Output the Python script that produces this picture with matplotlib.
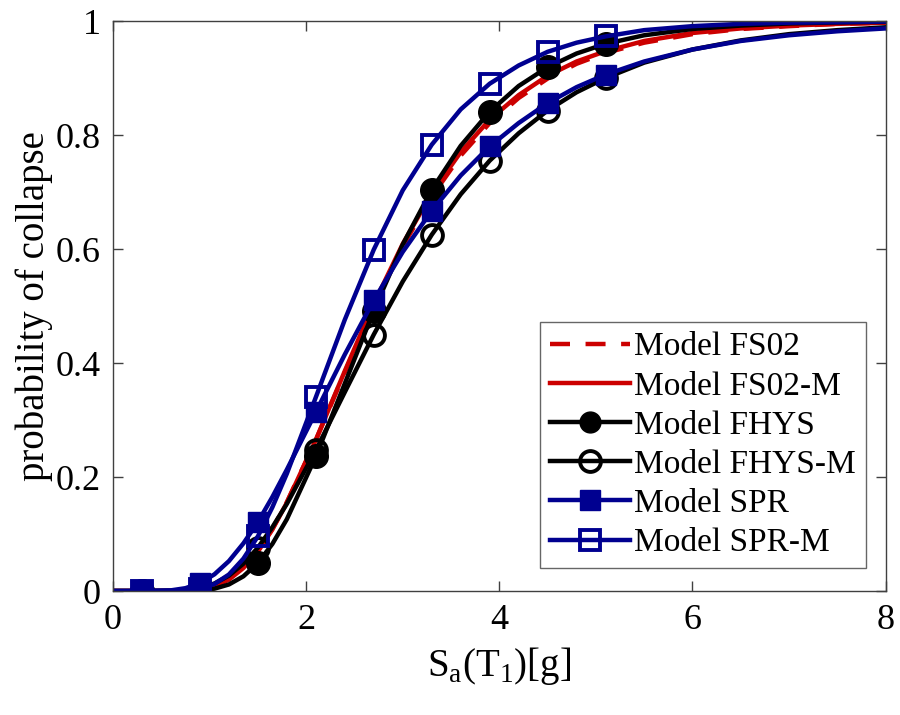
import numpy as np
import matplotlib
matplotlib.use('Agg')
from matplotlib import pyplot as plt

# Sa(T1) grid for the curves
sa = [0.0, 0.3, 0.6, 0.75, 0.9, 1.05, 1.2, 1.35, 1.5, 1.65, 1.8, 2.1, 2.4, 2.7, 3.0,
      3.3, 3.6, 3.9, 4.2, 4.5, 4.8, 5.1, 5.5, 6.0, 6.5, 7.0, 7.5, 8.0]
sa_marks = [0.3, 0.9, 1.5, 2.1, 2.7, 3.3, 3.9, 4.5, 5.1]

# probability of collapse for each model
fs02 = [0.0, 0.0, 0.0001, 0.0007, 0.003, 0.0091, 0.021, 0.0416, 0.071, 0.109, 0.156, 0.265,
        0.384, 0.500, 0.605, 0.692, 0.764, 0.821, 0.865, 0.899, 0.925, 0.944, 0.962, 0.977,
        0.986, 0.991, 0.995, 0.997]
fs02_m = [0.0, 0.0, 0.0001, 0.0006, 0.0028, 0.0086, 0.020, 0.0404, 0.069, 0.108, 0.155, 0.265,
          0.386, 0.504, 0.609, 0.698, 0.770, 0.827, 0.870, 0.904, 0.929, 0.947, 0.965, 0.979,
          0.987, 0.992, 0.995, 0.997]
fhys = [0.0, 0.0, 0.0, 0.0002, 0.001, 0.0041, 0.0115, 0.0258, 0.049, 0.0826, 0.126, 0.236,
        0.364, 0.492, 0.608, 0.704, 0.781, 0.841, 0.886, 0.919, 0.943, 0.960, 0.975, 0.986,
        0.992, 0.9957, 0.9976, 0.9986]
fhys_m = [0.0, 0.0, 0.0003, 0.0015, 0.0052, 0.0132, 0.027, 0.048, 0.076, 0.112, 0.153, 0.247,
          0.349, 0.450, 0.543, 0.625, 0.696, 0.755, 0.803, 0.843, 0.875, 0.900, 0.927, 0.950,
          0.966, 0.977, 0.984, 0.989]
spr = [0.0, 0.0, 0.0012, 0.005, 0.0138, 0.0293, 0.0525, 0.0836, 0.121, 0.165, 0.213, 0.314,
       0.415, 0.510, 0.595, 0.667, 0.729, 0.780, 0.821, 0.856, 0.884, 0.906, 0.929, 0.950,
       0.965, 0.975, 0.982, 0.987]
spr_m = [0.0, 0.0, 0.0001, 0.0009, 0.004, 0.0123, 0.029, 0.0568, 0.096, 0.147, 0.206, 0.340,
         0.476, 0.599, 0.703, 0.783, 0.845, 0.890, 0.922, 0.946, 0.962, 0.973, 0.984, 0.991,
         0.995, 0.997, 0.998, 0.999]

labels = ['Model FS02', 'Model FS02-M', 'Model FHYS', 'Model FHYS-M',
          'Model SPR', 'Model SPR-M']

RED = '#cc0000'
BLUE = '#000090'
MARK = [sa.index(x) for x in sa_marks]
LW = 3.2

plt.rcParams['font.family'] = 'serif'
plt.rcParams['font.serif'] = ['Liberation Serif', 'DejaVu Serif']
plt.rcParams['mathtext.fontset'] = 'custom'
plt.rcParams['mathtext.rm'] = 'Liberation Serif'

fig = plt.figure(figsize=(9, 7.15), dpi=100)
ax = fig.add_axes([0.1256, 0.1734, 0.8584, 0.7972])

ax.plot(sa, fs02, '--', color=RED, lw=LW, dashes=(4.5, 3.5), label=labels[0])
ax.plot(sa, fs02_m, '-', color=RED, lw=LW, label=labels[1])
ax.plot(sa, fhys, '-', color='black', lw=LW, marker='o', ms=17,
        markevery=MARK, mfc='black', label=labels[2])
ax.plot(sa, fhys_m, '-', color='black', lw=LW, marker='o', ms=15, mew=2.8,
        markevery=MARK, mfc='none', label=labels[3])
ax.plot(sa, spr, '-', color=BLUE, lw=LW, marker='s', ms=15,
        markevery=MARK, mfc=BLUE, label=labels[4])
ax.plot(sa, spr_m, '-', color=BLUE, lw=LW, marker='s', ms=14, mew=2.8,
        markevery=MARK, mfc='none', label=labels[5])

ax.set_xlim(0, 8)
ax.set_ylim(0, 1)
ax.set_xticks([0, 2, 4, 6, 8])
ax.set_yticks([0, 0.2, 0.4, 0.6, 0.8, 1])
ax.set_yticklabels(['0', '0.2', '0.4', '0.6', '0.8', '1'])
ax.tick_params(direction='in', length=7, width=1, top=True, right=True,
               labelsize=26, pad=9, color='#404040')
for s in ax.spines.values():
    s.set_color('#404040')
    s.set_linewidth(1)

ax.set_xlabel(r'S$_\mathregular{a}$(T$_\mathregular{1}$)[g]', fontsize=28, labelpad=6)
ax.set_ylabel('probability of collapse', fontsize=28, labelpad=2)

leg = ax.legend(loc='lower right', bbox_to_anchor=(0.974, 0.04), fontsize=24,
                frameon=True, fancybox=False, edgecolor='#404040',
                handlelength=2.4, handletextpad=0.1, labelspacing=0.26,
                borderpad=0.3, borderaxespad=0)
leg.get_frame().set_linewidth(1)
for h in leg.legend_handles:
    h.set_markersize(15)

fig.savefig('out.png', dpi=100)
